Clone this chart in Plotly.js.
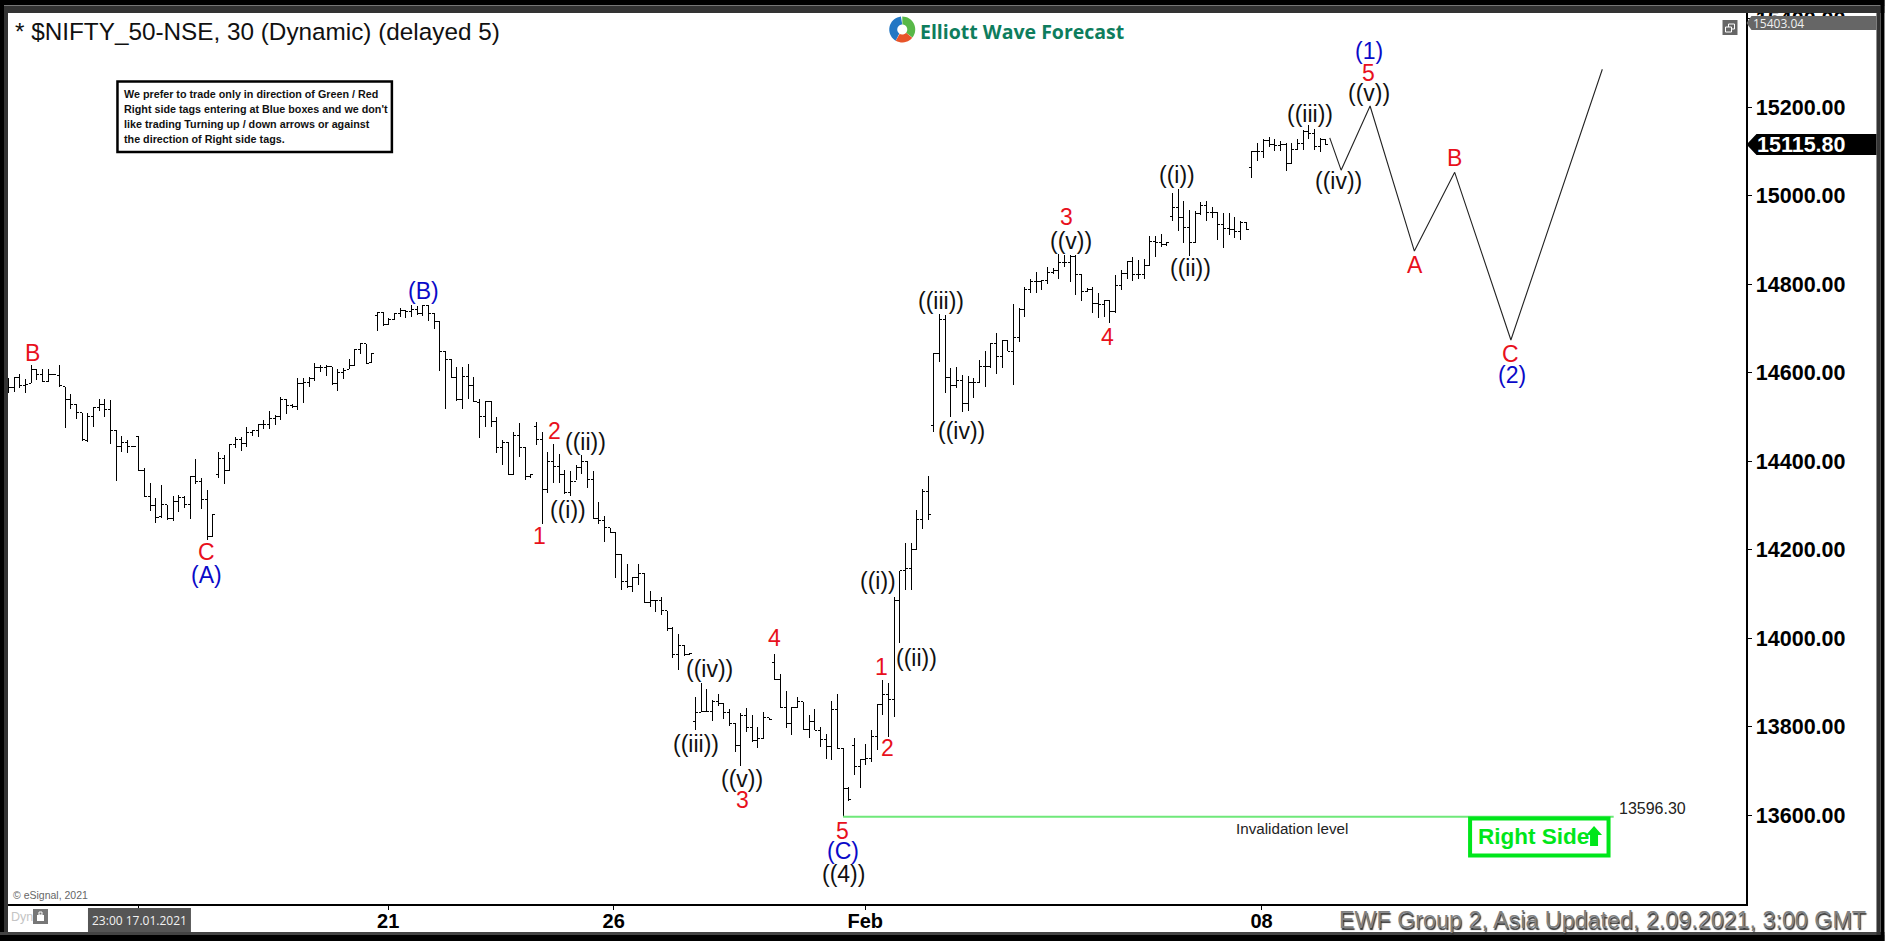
<!DOCTYPE html>
<html><head><meta charset="utf-8">
<script src="https://cdn.plot.ly/plotly-3.0.1.min.js"></script>
<style>html,body{margin:0;padding:0;background:#000;overflow:hidden}#c{width:1885px;height:941px}
.ohlclayer path{shape-rendering:crispEdges !important}</style>
</head><body><div id="c"></div>
<script>
// ---- price bars (30 min); continuous bar numbering ----
const open = [14574,14566,14589,14570,14576,14608,14595,14580,14596,14594,14568,14540,14529,14510,14447,14501,14521,14529,14517,14469,14433,14442,14434,14455,14378,14321,14300,14274,14301,14270,14308,14318,14302,14365,14353,14314,14229,14370,14405,14378,14437,14449,14440,14464,14469,14482,14483,14497,14501,14540,14527,14523,14576,14577,14587,14612,14611,14613,14576,14601,14608,14617,14653,14665,14623,14730,14737,14709,14721,14734,14740,14738,14744,14734,14753,14734,14715,14649,14630,14589,14540,14591,14571,14533,
14502,14536,14489,14431,14443,14371,14457,14431,14365,14478,14449,14336,14400,14389,14369,14329,14355,14386,14400,14359,14271,14265,14250,14238,14188,14128,14116,14137,14146,14081,14086,14085,14062,14021,13962,13983,13962,
13811,13832,13835,13835,13856,13852,13831,13807,13757,13824,13798,13769,13773,13820,13945,13907,13843,13806,13843,13856,13794,13811,13792,13771,13756,13839,13751,13660,13758,13709,13726,13728,13778,13849,13873,
13862,14086,14152,14158,14201,14269,14331,14480,14644,14721,14590,14572,14582,14531,14578,14578,14614,14614,14665,14636,14672,14648,14679,
14743,14789,14806,14806,14808,14826,14832,14849,14850,14862,14821,14783,14789,14757,14755,14763,14738,14798,14825,14851,14823,14822,14842,14896,14895,14889,14953,14974,14951,14929,14894,14960,14979,14962,14962,14936,14926,14924,14920,14940,15064,15100,15100,15124,15116,15113,15116,15073,15105,15119,15145,15141,15111,15128];
const high = [14587,14590,14596,14585,14617,14608,14608,14608,14596,14617,14568,14551,14529,14510,14510,14523,14540,14540,14538,14470,14458,14448,14435,14458,14384,14350,14316,14346,14301,14321,14323,14321,14365,14405,14363,14335,14280,14420,14414,14438,14455,14454,14478,14470,14484,14493,14513,14504,14546,14540,14529,14587,14587,14591,14623,14617,14618,14613,14608,14610,14630,14653,14666,14666,14644,14738,14737,14723,14736,14746,14742,14752,14751,14753,14753,14736,14715,14650,14630,14612,14612,14619,14591,14540,
14536,14536,14499,14449,14443,14467,14486,14431,14371,14489,14467,14421,14439,14416,14381,14378,14391,14414,14400,14378,14307,14277,14250,14238,14188,14167,14139,14167,14148,14107,14086,14092,14062,14024,14009,13984,13967,
13867,13898,13886,13860,13873,13852,13839,13807,13830,13843,13826,13798,13834,13820,13965,13919,13881,13845,13867,13856,13826,13839,13798,13783,13858,13873,13751,13664,13773,13726,13760,13792,13849,13905,13898,
14094,14152,14214,14214,14290,14336,14366,14644,14732,14730,14610,14612,14595,14593,14589,14629,14649,14668,14689,14674,14672,14755,14746,
14793,14811,14828,14810,14840,14836,14868,14866,14866,14866,14821,14791,14793,14780,14763,14764,14821,14832,14851,14862,14855,14856,14909,14908,14913,14895,15007,15015,14989,14969,14966,14987,14988,14974,14962,14960,14960,14951,14942,14940,15102,15119,15128,15132,15128,15125,15119,15119,15128,15149,15159,15150,15130,15128];
const low = [14555,14557,14565,14555,14576,14584,14578,14578,14594,14568,14474,14517,14495,14446,14444,14478,14514,14501,14438,14356,14421,14419,14433,14378,14320,14288,14261,14271,14268,14265,14284,14295,14270,14348,14293,14222,14228,14363,14349,14377,14429,14424,14433,14458,14455,14473,14472,14482,14493,14507,14521,14516,14531,14568,14581,14602,14593,14572,14559,14585,14608,14617,14642,14619,14621,14695,14706,14708,14719,14725,14724,14727,14730,14728,14718,14698,14605,14517,14587,14537,14517,14541,14534,14452,
14478,14478,14419,14391,14371,14370,14409,14357,14363,14437,14259,14327,14351,14350,14326,14322,14357,14372,14339,14271,14259,14218,14238,14137,14109,14114,14105,14120,14079,14071,14060,14052,14016,13956,13928,13960,13962,
13792,13832,13832,13813,13846,13817,13801,13743,13711,13788,13766,13752,13773,13816,13905,13841,13796,13782,13841,13794,13775,13792,13754,13727,13724,13751,13596,13632,13690,13660,13713,13720,13747,13826,13777,
13822,13990,14109,14109,14201,14247,14267,14467,14625,14555,14501,14565,14512,14513,14542,14577,14568,14611,14596,14611,14648,14572,14670,
14725,14781,14780,14786,14801,14823,14811,14840,14804,14776,14763,14782,14734,14723,14727,14713,14736,14786,14811,14807,14811,14813,14842,14862,14885,14887,14944,14921,14894,14865,14894,14957,14944,14949,14900,14881,14911,14904,14899,14924,15041,15079,15085,15111,15102,15102,15057,15072,15104,15104,15128,15104,15098,15115];
const close = [14566,14589,14570,14574,14608,14595,14580,14596,14595,14570,14540,14529,14510,14448,14501,14521,14529,14517,14469,14433,14442,14434,14434,14378,14321,14300,14273,14301,14271,14308,14318,14302,14365,14353,14314,14229,14280,14405,14378,14438,14449,14440,14464,14469,14482,14483,14497,14501,14540,14527,14523,14576,14577,14587,14612,14611,14613,14576,14601,14606,14617,14653,14665,14621,14644,14737,14708,14721,14734,14740,14738,14744,14734,14753,14734,14715,14649,14630,14589,14540,14591,14571,14534,14502,
14536,14489,14431,14443,14371,14457,14431,14365,14369,14449,14336,14400,14389,14369,14329,14355,14386,14400,14359,14271,14265,14250,14238,14188,14128,14116,14137,14146,14081,14086,14085,14062,14021,13962,13983,13962,13966,
13832,13835,13835,13856,13852,13831,13807,13757,13824,13798,13769,13773,13820,13817,13907,13843,13806,13843,13856,13794,13811,13792,13771,13756,13839,13751,13660,13634,13709,13726,13728,13778,13849,13873,13862,
14086,14152,14158,14201,14269,14331,14280,14644,14721,14590,14572,14582,14531,14578,14578,14614,14614,14665,14636,14672,14648,14679,14742,
14789,14806,14806,14808,14826,14832,14849,14850,14862,14821,14783,14789,14757,14755,14763,14738,14798,14825,14851,14823,14822,14842,14896,14895,14889,14894,14974,14951,14929,14894,14960,14979,14962,14962,14936,14926,14924,14920,14940,14924,15100,15100,15124,15116,15113,15116,15073,15105,15119,15145,15141,15111,15128,15116];
const barNumber = open.map((_, i) => i);

// ---- forecast path ----
const forecastBar   = [232.7,234.7,239.8,247.6,254.7,264.6,280.7];
const forecastPrice = [15131,15058,15203,14875,15053,14674,15286];

// ---- invalidation level ----
const invalidationBar   = [147,282.7];
const invalidationPrice = [13596.3,13596.3];

// ---- axis ticks ----
const priceTicks = [13600,13800,14000,14200,14400,14600,14800,15000,15200,15400];
const priceTickText = priceTicks.map(v => v.toFixed(2));
const dateTickBars = [23,66.9,106.6,150.9,220.7];
const dateTickText = ['','21','26','Feb','08'];

// ---- wave labels ----
const RED='#e8101c', BLUE='#0a0ac8', BLK='#111111';
const waveLabels = [
 ['B',33,352.5,RED],['C',207,552,RED],['(A)',206.5,574.5,BLUE],['(B)',424,290.5,BLUE],
 ['1',540,535.5,RED],['2',555,430.5,RED],['((ii))',586,441.5,BLK],['((i))',568,509.5,BLK],
 ['4',775,637.5,RED],['((iv))',710,669.5,BLK],['((iii))',696,743.5,BLK],['((v))',742,778.5,BLK],['3',743,799.5,RED],
 ['5',843,830.5,RED],['(C)',843,850.5,BLUE],['((4))',844,873.5,BLK],
 ['1',882,666.5,RED],['2',888,747.5,RED],['((i))',878,581.5,BLK],['((ii))',917,657.5,BLK],
 ['((iii))',941,300.5,BLK],['((iv))',962,430.5,BLK],['3',1067,216.5,RED],['((v))',1071,240.5,BLK],['4',1108,337.5,RED],
 ['((i))',1177,174.5,BLK],['((ii))',1191,267.5,BLK],['((iii))',1310,114.5,BLK],['((iv))',1339,181.5,BLK],
 ['((v))',1369,93.5,BLK],['5',1369,73.5,RED],['(1)',1369,51.5,BLUE],
 ['A',1415,264.5,RED],['B',1455,158.5,RED],['C',1511,353.5,RED],['(2)',1512,374.5,BLUE]
];
const noteLines = ['We prefer to trade only in direction of Green / Red',"Right side tags entering at Blue boxes and we don't",'like trading Turning up / down arrows or against','the direction of Right side tags.'];

// ---- page geometry helpers (pixels of the frame -> paper fractions) ----
const L=8,R=1746.5,T=13,B=904;
const px=x=>(x-L)/(R-L), py=y=>(B-y)/(B-T);
const F='Liberation Sans, Arial, sans-serif';
const note=(text,x,y,size,color,opt={})=>Object.assign({text,xref:'paper',yref:'paper',x:px(x),y:py(y),showarrow:false,
  xanchor:'center',yanchor:'middle',borderpad:0,font:{family:F,size,color}},opt);
const rect=(x0,y0,x1,y1,fill,line,w)=>({type:'rect',xref:'paper',yref:'paper',x0:px(x0),x1:px(x1),y0:py(y0),y1:py(y1),
  fillcolor:fill||'rgba(0,0,0,0)',line:{color:line||'rgba(0,0,0,0)',width:w||0},layer:'above'});
const poly=(pts,fill)=>({type:'path',xref:'paper',yref:'paper',path:'M'+pts.map(p=>px(p[0])+','+py(p[1])).join('L')+'Z',
  fillcolor:fill,line:{width:0},layer:'above'});
const ring=(cx,cy,r0,r1,a0,a1)=>{const p=[];for(let a=a0;a<=a1;a+=8)p.push([cx+r1*Math.cos(a*Math.PI/180),cy+r1*Math.sin(a*Math.PI/180)]);
  for(let a=a1;a>=a0;a-=8)p.push([cx+r0*Math.cos(a*Math.PI/180),cy+r0*Math.sin(a*Math.PI/180)]);return p;};

const shapes=[
 // window frame
 rect(0,0,1885,6,'#000000'), rect(0,5,1885,6,'#777777'), rect(0,6,1885,13,'#333333'),
 rect(0,0,4,941,'#000000'), rect(4,6,8,935,'#333333'),
 rect(0,932,1885,935,'#444444'), rect(0,935,1885,941,'#000000'),
 rect(1881,0,1885,941,'#000000'), rect(1877,6,1881,935,'#333333'),
 // logo
 poly(ring(902.5,29.5,5,13,120,270),'#2277c4'), poly(ring(902.5,29.5,5,13,270,400),'#58b848'), poly(ring(902.5,29.5,5,13,40,120),'#e8552a'),
 // note box
 rect(117.5,81.5,392,152,'#ffffff','#000000',2.5),
 // restore icon
 rect(1723,20,1738,35,'#666666'), rect(1729,24,1735,29,null,'#ffffff',1), rect(1726,27,1732,32,'#666666','#ffffff',1),
 // right side tag
 rect(1470.5,818.5,1609,855.5,'#ffffff','#00e61a',4),
 poly([[1594.5,826],[1602.5,835],[1598.5,835],[1598.5,846],[1590.5,846],[1590.5,835],[1586.5,835]],'#00e61a'),
 // price tags
 poly([[1747,23],[1752,16],[1877,16],[1877,30],[1752,30]],'#666666'),
 poly([[1747,144.5],[1757,134],[1877,134],[1877,155],[1757,155]],'#000000'),
 // time tag, lock icon
 rect(88,908,191,932,'#555555'),
 rect(33,909,48,924,'#777777'), rect(37,915,44,921,'#ffffff'), rect(39,912,42,915,null,'#ffffff',1)
];

const annotations=[
 ...waveLabels.map(l=>note(l[0],l[1],l[2],23,l[3])),
 ...noteLines.map((t,i)=>note(t,123,94+15*i,10.75,'#111111',{xanchor:'left',font:{family:F,size:10.75,color:'#111111',weight:700}})),
 note('* $NIFTY_50-NSE, 30 (Dynamic) (delayed 5)',14,31,24.3,'#111111',{xanchor:'left'}),
 note('Elliott Wave Forecast',919,31,19.5,'#0e7d5d',{xanchor:'left',font:{family:'Open Sans, DejaVu Sans',size:19.5,color:'#0e7d5d',weight:700}}),
 note('15403.04',1753,23.5,12,'#f0f0f0',{xanchor:'left',font:{family:'Open Sans, Liberation Sans',size:12,color:'#f0f0f0'}}),
 note('15115.80',1757,144.5,21.5,'#ffffff',{xanchor:'left',font:{family:F,size:21.5,color:'#ffffff',weight:700}}),
 note('13596.30',1618,808,16,'#222222',{xanchor:'left'}),
 note('Invalidation level',1235,828,15.2,'#222222',{xanchor:'left'}),
 note('Right Side',1477,836,22.5,'#00e61a',{xanchor:'left',font:{family:F,size:22.5,color:'#00e61a',weight:700}}),
 note('© eSignal, 2021',12,894.5,10.5,'#666666',{xanchor:'left'}),
 note('Dyn',10,917,12.5,'#c4c4c4',{xanchor:'left'}),
 note('23:00 17.01.2021',139.5,920.5,12,'#f2f2f2',{font:{family:'Open Sans, Liberation Sans',size:12,color:'#f2f2f2'}}),
 note('EWF Group 2, Asia Updated, 2.09.2021, 3:00 GMT',1868,920,23.3,'#808080',{xanchor:'right',font:{family:F,size:23.3,color:'#808080',shadow:'1px 2px 1px #333333'}})
];

const traces=[
 {type:'ohlc',x:barNumber,open,high,low,close,tickwidth:0.45,hoverinfo:'skip',showlegend:false,
  increasing:{line:{color:'#000000',width:1}},decreasing:{line:{color:'#000000',width:1}}},
 {type:'scatter',mode:'lines',x:forecastBar,y:forecastPrice,line:{color:'#222222',width:1.1},hoverinfo:'skip',showlegend:false},
 {type:'scatter',mode:'lines',x:invalidationBar,y:invalidationPrice,line:{color:'#6fe87a',width:2},hoverinfo:'skip',showlegend:false}
];

const tickFont={family:F,size:20,color:'#000000',weight:700};
const layout={
 width:1885,height:941,margin:{l:L,r:1885-R,t:T,b:941-B,pad:0},
 paper_bgcolor:'#ffffff',plot_bgcolor:'#ffffff',showlegend:false,
 xaxis:{type:'linear',range:[-0.06,306],showgrid:false,zeroline:false,showline:true,linecolor:'#000000',linewidth:1.5,
  tickmode:'array',tickvals:dateTickBars,ticktext:dateTickText,ticks:'outside',ticklen:4,tickcolor:'#000000',tickfont:tickFont,ticklabelstandoff:-6,
  rangeslider:{visible:false},fixedrange:true},
 yaxis:{side:'right',range:[13398.8,15413.3],showgrid:false,zeroline:false,showline:true,linecolor:'#000000',linewidth:1.5,
  tickmode:'array',tickvals:priceTicks,ticktext:priceTickText,ticks:'outside',ticklen:4,tickcolor:'#000000',tickfont:{...tickFont,size:21.5},fixedrange:true},
 shapes,annotations
};
Plotly.newPlot('c',traces,layout,{displayModeBar:false,staticPlot:true});
</script></body></html>
